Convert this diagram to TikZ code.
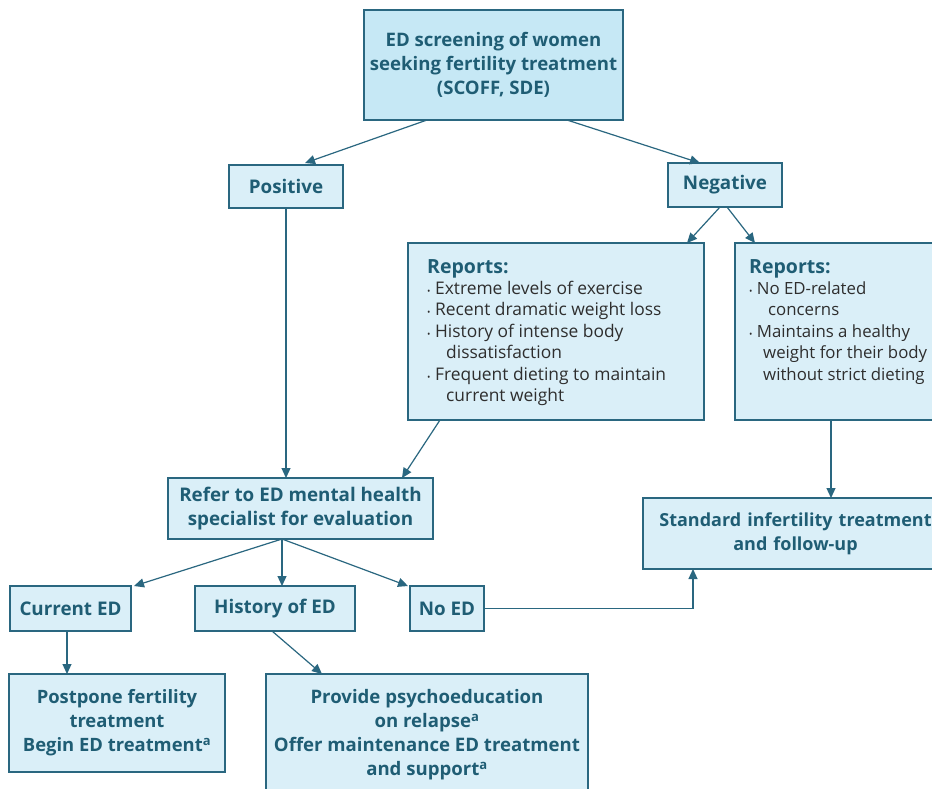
\documentclass[tikz,border=0pt]{standalone}
\usepackage{fontspec}
\setmainfont{Open Sans}
\usetikzlibrary{arrows.meta,calc}
\definecolor{edtext}{HTML}{1F5D74}
\definecolor{edline}{HTML}{2A6780}
\definecolor{edfillA}{HTML}{C6E8F5}
\definecolor{edfillB}{HTML}{DAEFF8}
\definecolor{edgray}{HTML}{2E2E2E}
\begin{document}
\begin{tikzpicture}[x=1pt,y=-1pt,
  box/.style={draw=edline, line width=1.2pt, fill=edfillB, inner sep=0pt, outer sep=0pt,
    anchor=north west, text=edtext, font=\bfseries\fontsize{18.8}{24}\selectfont, align=center},
  arr/.style={draw=edline, line width=1.2pt, -{Triangle[length=10pt,width=9pt]}},
  rep/.style={anchor=north west, align=left, inner sep=0pt, text=edgray, font=\fontsize{17.4}{21.4}\selectfont}]
\useasboundingbox (0,0) rectangle (932,788);
\fill[white] (0,0) rectangle (932,788);
\node[box, fill=edfillA, minimum width=259pt, minimum height=110pt, font=\bfseries\fontsize{18.6}{24}\selectfont] (top) at (364,10) {ED screening of women\\seeking fertility treatment\\(SCOFF, SDE)};
\node[box, minimum width=114pt, minimum height=43pt] (pos) at (229,165) {Positive};
\node[box, minimum width=114pt, minimum height=44pt] (neg) at (668,163) {Negative};
\node[box, minimum width=296pt, minimum height=177pt] (repL) at (408,243) {};
\node[box, minimum width=210pt, minimum height=177pt] (repR) at (735,243) {};
\node[rep] (repLtxt) at (427,259) {{\color{edtext}\bfseries\fontsize{19.5}{22}\selectfont Reports:}\\
{\small\textbullet}\ Extreme levels of exercise\\
{\small\textbullet}\ Recent dramatic weight loss\\
{\small\textbullet}\ History of intense body\\
\hspace*{19pt}dissatisfaction\\
{\small\textbullet}\ Frequent dieting to maintain\\
\hspace*{19pt}current weight};
\node[rep, font=\fontsize{16.8}{21.4}\selectfont] (repRtxt) at (749,259) {{\color{edtext}\bfseries\fontsize{19.5}{22}\selectfont Reports:}\\
{\small\textbullet}\ No ED-related\\
\hspace*{19pt}concerns\\
{\small\textbullet}\ Maintains a healthy\\
\hspace*{14pt}weight for their body\\
\hspace*{14pt}without strict dieting};
\node[box, minimum width=265pt, minimum height=61pt] (refer) at (168,478) {Refer to ED mental health\\specialist for evaluation};
\node[box, minimum width=305pt, minimum height=71pt, text width=300pt, font=\bfseries\fontsize{18}{24}\selectfont] (std) at (643,498) {Standard infertility treatment\\and follow-up};
\node[box, minimum width=121pt, minimum height=45pt] (cur) at (10,586) {Current ED};
\node[box, minimum width=160pt, minimum height=45pt] (hist) at (195,586) {History of ED};
\node[box, minimum width=74pt, minimum height=45pt] (noed) at (410,586) {No ED};
\node[box, minimum width=216pt, minimum height=98pt, font=\bfseries\fontsize{18.4}{24}\selectfont] (post) at (9,674) {Postpone fertility\\treatment\\Begin ED treatment\textsuperscript{a}};
\node[box, minimum width=322pt, minimum height=122pt, font=\bfseries\fontsize{18.6}{24}\selectfont] (prov) at (266,674) {Provide psychoeducation\\on relapse\textsuperscript{a}\\Offer maintenance ED treatment\\and support\textsuperscript{a}};
% connectors
\draw[arr] ($(top.south west)+(63,0)$) -- ($(pos.north west)+(76,-2)$);
\draw[arr] ($(top.south west)+(203,0)$) -- ($(neg.north west)+(32,0)$);
\draw[arr] (pos.south) -- (pos.south |- refer.north);
\draw[arr] ($(neg.south west)+(52,0)$) -- ($(repL.north east)+(-17,0)$);
\draw[arr] ($(neg.south west)+(59,0)$) -- ($(repR.north west)+(20,0)$);
\draw[arr] ($(repL.south west)+(32,0)$) -- ($(refer.north east)+(-31,0)$);
\coordinate (rr) at ($(repR.south west)+(96,0)$);
\draw[arr] (rr) -- (rr |- std.north);
\coordinate (rf) at ($(refer.south west)+(114,0)$);
\draw[arr] (rf) -- ($(cur.north east)+(3,0)$);
\draw[arr] (rf) -- (rf |- hist.north);
\draw[arr] (rf) -- ($(noed.north west)+(-2,0)$);
\draw[arr] (noed.east) -| ($(std.south west)+(50,0)$);
\coordinate (cc) at ($(cur.south west)+(57,0)$);
\draw[arr] (cc) -- (cc |- post.north);
\draw[arr] ($(hist.south west)+(77,0)$) -- ($(prov.north west)+(56,0)$);
\end{tikzpicture}
\end{document}
